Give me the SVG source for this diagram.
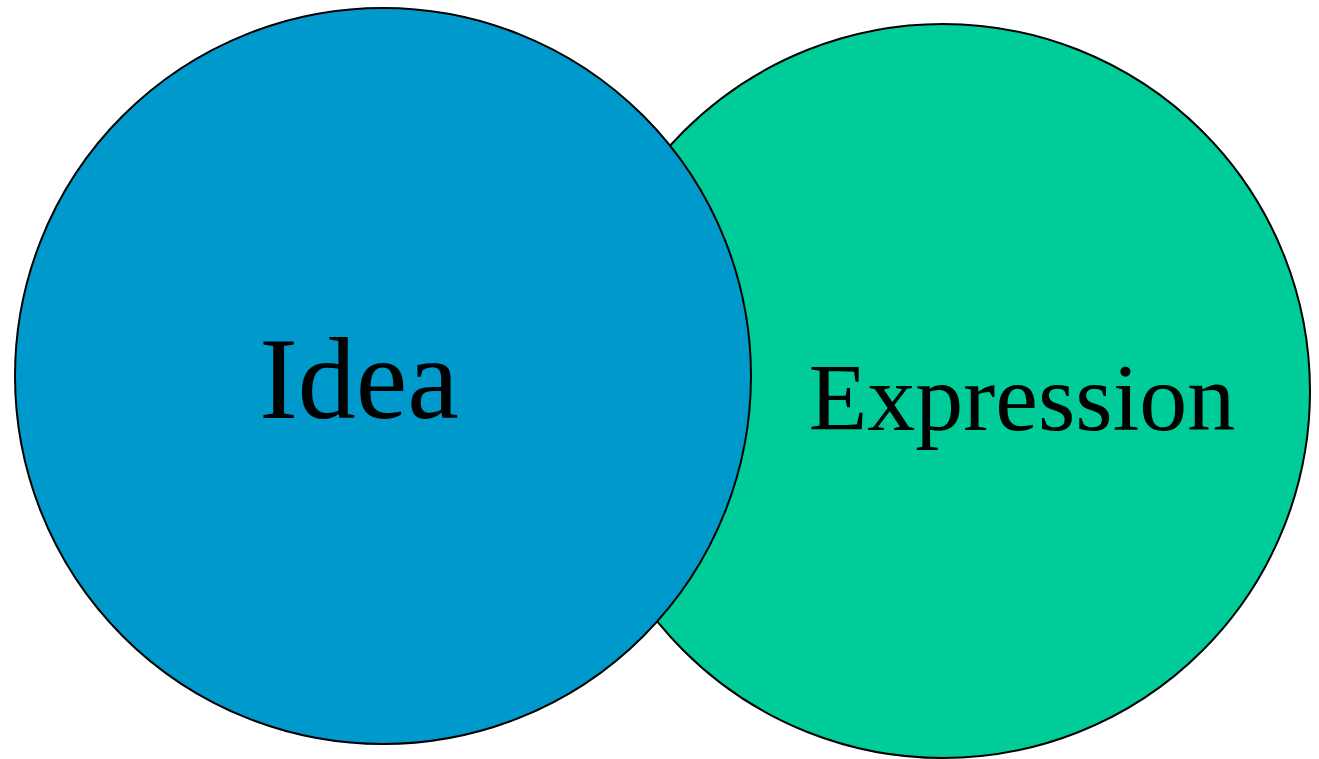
<svg xmlns="http://www.w3.org/2000/svg" width="1319" height="759" viewBox="0 0 1319 759">
  <style>
    .circle { stroke: #000000; stroke-width: 2; }
    .label { font-family: "Liberation Serif", "Times New Roman", serif; fill: #000000; text-anchor: middle; }
  </style>
  <rect width="1319" height="759" fill="#ffffff"/>
  <!-- Expression sits behind Idea -->
  <g id="expression">
    <circle class="circle" cx="943" cy="391" r="367" fill="#00CC99"/>
    <text class="label" x="1022" y="430" font-size="96">Expression</text>
  </g>
  <g id="idea">
    <circle class="circle" cx="383" cy="376" r="368" fill="#0099CC"/>
    <text class="label" x="359" y="418" font-size="116">Idea</text>
  </g>
</svg>
